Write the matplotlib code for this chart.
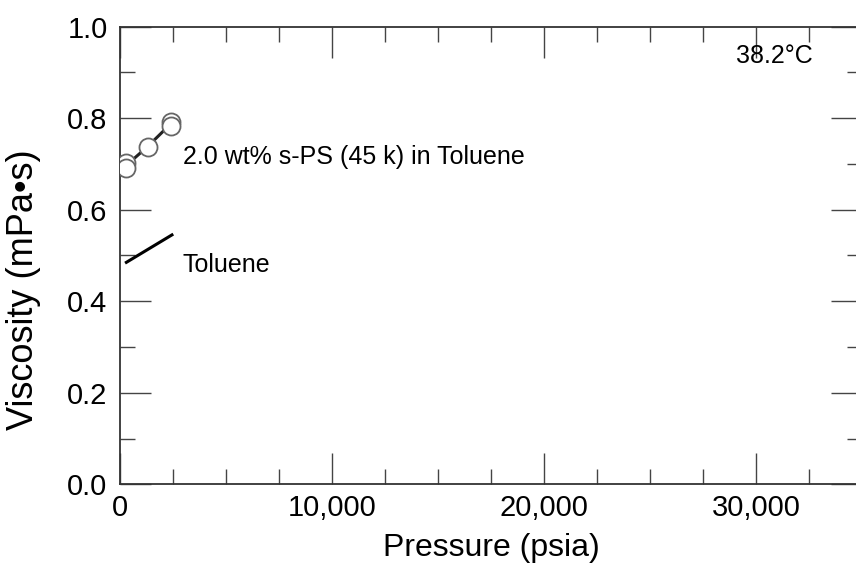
import numpy as np
import matplotlib.pyplot as plt
from matplotlib.ticker import MultipleLocator, FuncFormatter

plt.rcParams['font.family'] = ['Liberation Sans', 'DejaVu Sans']

# 2.0 wt% s-PS (45 k) in toluene, two runs at 38.2 C
p_run1 = [300, 1300, 2400]
eta_run1 = [0.692, 0.738, 0.783]
p_run2 = [300, 2400]
eta_run2 = [0.703, 0.792]

# pure toluene reference line
p_tol = [300, 2450]
eta_tol = [0.485, 0.545]

fig = plt.figure(figsize=(8.56, 5.63), dpi=100)
ax = fig.add_axes([0.1402, 0.1398, 0.8668, 0.8128])

ax.plot(p_tol, eta_tol, color='black', lw=2.2)
p_mean = p_run1
eta_mean = [0.697, 0.738, 0.788]
ax.plot(p_mean, eta_mean, color='#222222', lw=2.2, zorder=2)
ax.plot(p_run2, eta_run2, 'o', ms=13, mfc='white', mec='#666666', mew=1.3, zorder=3)
ax.plot(p_run1, eta_run1, 'o', ms=13, mfc='white', mec='#666666', mew=1.3, zorder=3)

ax.text(2950, 0.716, '2.0 wt% s-PS (45 k) in Toluene', fontsize=18, va='center')
ax.text(2950, 0.480, 'Toluene', fontsize=18, va='center')
ax.text(32700, 0.937, '38.2°C', fontsize=18, va='center', ha='right')

ax.set_xlim(0, 35000)
ax.set_ylim(0, 1.0)
ax.xaxis.set_major_locator(MultipleLocator(10000))
ax.xaxis.set_minor_locator(MultipleLocator(2500))
ax.yaxis.set_major_locator(MultipleLocator(0.2))
ax.yaxis.set_minor_locator(MultipleLocator(0.1))
ax.xaxis.set_major_formatter(FuncFormatter(lambda v, pos: f'{int(v):,}'))
ax.yaxis.set_major_formatter(FuncFormatter(lambda v, pos: f'{v:.1f}'))

ax.tick_params(which='both', direction='in', top=True, right=True,
               color='#444444', width=1.0)
ax.tick_params(axis='x', labelsize=21, pad=7)
ax.tick_params(axis='y', labelsize=21, pad=9)
ax.tick_params(which='major', length=22)
ax.tick_params(which='minor', length=11)
for s in ax.spines.values():
    s.set_color('#333333')
    s.set_linewidth(1.3)

ax.set_xlabel('Pressure (psia)', fontsize=23, labelpad=8)
ax.set_ylabel('Viscosity (mPa•s)', fontsize=26)
ax.yaxis.set_label_coords(-0.106, 0.425)

fig.savefig('out.png', dpi=100)
